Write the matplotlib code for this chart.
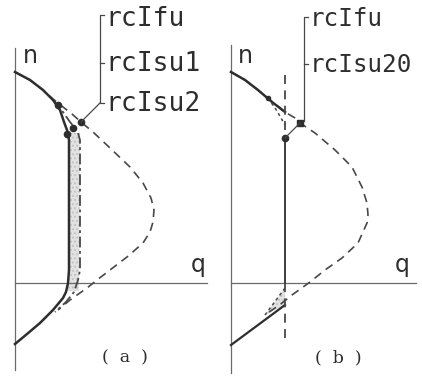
import numpy as np
import matplotlib
matplotlib.use("Agg")
from matplotlib import pyplot as plt

# curve points, (q, n) with the origin at the axis crossing
a_fu_q = [0, 15, 28, 38, 48, 57, 66, 78, 95, 115, 128, 136, 139, 138, 135, 128, 112, 95, 82, 72, 55, 43]
a_fu_n = [211, 203, 193, 184, 176, 169, 161, 151, 135, 116, 100, 85, 73, 61, 51, 40, 26, 13, 3, -5, -17, -27]
a_solid_q = [0, 15, 28, 38, 45, 49, 52, 54, 54, 54, 53, 51, 48, 38, 25, 12, 0]
a_solid_n = [211, 203, 193, 183, 173, 161, 153, 143, 83, 13, 0, -9, -15, -27, -40, -51, -61]
a_su_q = [38, 48, 55, 60, 63, 65, 65, 65, 63, 59, 51, 40]
a_su_n = [183, 171, 161, 155, 150, 143, 83, 13, 3, -9, -19, -29]
a_pts_q = [43, 52, 58, 66]
a_pts_n = [178, 149, 155, 161]

b_fu_q = [0, 14, 27, 39, 54, 64, 69, 84, 104, 121, 131, 136, 137, 136, 127, 111, 94, 79, 61, 51, 34]
b_fu_n = [211, 203, 193, 183, 171, 165, 160, 150, 133, 116, 96, 80, 68, 60, 40, 25, 13, 1, -12, -20, -32]
b_solid_q = [0, 14, 27, 41, 54]
b_solid_n = [211, 203, 193, 181, 171]
b_low_q = [0, 54]
b_low_n = [-62, -22]
b_qsu = 54
b_su_top = [208, 145]
b_su_mid = [145, 0]
b_su_bot = [0, -57]
b_inner_q = [37, 46, 54]
b_inner_n = [185, 172, 158]
b_tri_q = [54, 34, 54]
b_tri_n = [-5, -32, -22]

labels_a = ["rcIfu", "rcIsu1", "rcIsu2"]
labels_b = ["rcIfu", "rcIsu20"]

dark = "#2e2e2e"
mid = "#484848"
axc = "#6a6a6a"

fig = plt.figure(figsize=(4.22, 3.76), dpi=100)
axa = fig.add_axes([0, 0, 211 / 422, 1])
axb = fig.add_axes([211 / 422, 0, 211 / 422, 1])
axa.set_xlim(-15, 196)
axb.set_xlim(-20, 191)
for ax in (axa, axb):
    ax.set_ylim(-93, 283)
    ax.axis("off")

mono = "DejaVu Sans Mono"

# ---- panel (a)
axa.plot([0, 0], [235, -87], color=axc, lw=0.9)
axa.plot([0, 192], [0, 0], color=axc, lw=0.9)
axa.fill_betweenx([-8, 150], [53, 54], [64, 65], color="#e2e2e2", hatch="....", edgecolor="#c4c4c4", lw=0)
axa.plot(a_fu_q, a_fu_n, color=mid, lw=1.2, ls=(0, (5, 3.5)))
axa.plot(a_su_q, a_su_n, color=mid, lw=1.3, ls=(0, (6, 2, 1.5, 2)))
axa.plot(a_solid_q, a_solid_n, color=dark, lw=1.8)
axa.plot(a_pts_q, a_pts_n, "o", color=dark, ms=4.5)
axa.plot([89, 85, 85, 89], [268, 268, 180, 180], color=mid, lw=0.9)
axa.plot([85, 89], [220, 220], color=mid, lw=0.9)
axa.plot([85, 66], [180, 161], color=mid, lw=0.9)
for lab, n in zip(labels_a, [264, 219, 179]):
    axa.text(90, n, lab, family=mono, fontsize=19, color=dark, va="center", ha="left")
axa.text(15, 227, "n", fontsize=17, color=dark, ha="center", va="center")
axa.text(183, 18, "q", fontsize=17, color=dark, ha="center", va="center")
axa.text(110, -75, "(  a  )", family="DejaVu Serif", fontsize=12.5, color=dark, ha="center", va="center")

# ---- panel (b)
axb.plot([0, 0], [238, -90], color=axc, lw=0.9)
axb.plot([0, 185], [0, 0], color=axc, lw=0.9)
axb.fill(b_tri_q, b_tri_n, facecolor="#e2e2e2", hatch="....", edgecolor="#c4c4c4", lw=0)
axb.plot(b_fu_q, b_fu_n, color=mid, lw=1.2, ls=(0, (5, 3.5)))
axb.plot(b_solid_q, b_solid_n, color=dark, lw=1.8)
axb.plot(b_low_q, b_low_n, color=dark, lw=1.6)
axb.plot([b_qsu, b_qsu], b_su_top, color=mid, lw=1.3, ls=(0, (5, 3.5)))
axb.plot([b_qsu, b_qsu], b_su_mid, color=dark, lw=1.3)
axb.plot([b_qsu, b_qsu], b_su_bot, color=mid, lw=1.3, ls=(0, (5, 3.5)))
axb.plot(b_inner_q, b_inner_n, color=mid, lw=1.1, ls=(0, (2, 2)))
axb.plot([54, 34], [-5, -32], color=mid, lw=1.1, ls=(0, (2, 2)))
axb.plot([37], [185], "o", color=dark, ms=3)
axb.plot([69], [160], "s", color=dark, ms=4.5)
axb.plot([54], [145], "o", color=dark, ms=4.5)
axb.plot([77, 73, 73], [266, 266, 162], color=mid, lw=0.9)
axb.plot([73, 77], [219, 219], color=mid, lw=0.9)
axb.plot([69, 54], [160, 145], color=mid, lw=0.9)
for lab, n in zip(labels_b, [264, 218]):
    axb.text(79, n, lab, family=mono, fontsize=17.5, color=dark, va="center", ha="left")
axb.text(14, 227, "n", fontsize=17, color=dark, ha="center", va="center")
axb.text(171, 18, "q", fontsize=17, color=dark, ha="center", va="center")
axb.text(107, -75, "(  b  )", family="DejaVu Serif", fontsize=12.5, color=dark, ha="center", va="center")

fig.savefig("out.png", dpi=100, facecolor="white")
